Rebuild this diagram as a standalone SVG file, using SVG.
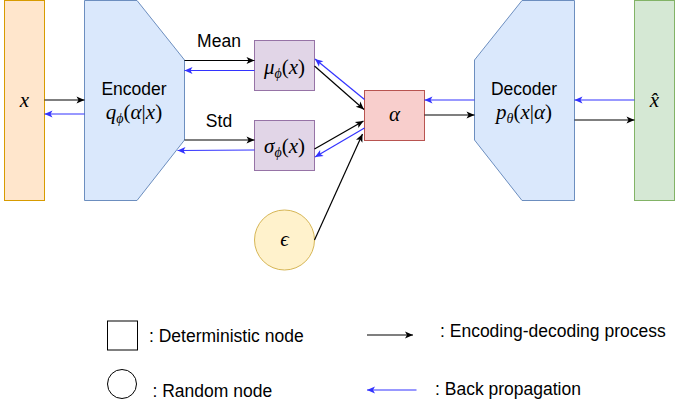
<svg xmlns="http://www.w3.org/2000/svg" width="685" height="411" viewBox="0 0 685 411">
<defs>
<style>
.lbl{font-family:"Liberation Sans",Arial,sans-serif;font-size:17.5px;fill:#000}
.m{font-family:"Liberation Serif","Times New Roman",serif;font-size:21px;fill:#000}
.mi{font-style:italic}
.fw{stroke:#000;stroke-width:1.2;fill:none;marker-end:url(#ab)}
.bw{stroke:#3333ff;stroke-width:1.2;fill:none;marker-end:url(#au)}
</style>
<marker id="ab" markerUnits="userSpaceOnUse" markerWidth="10" markerHeight="8" viewBox="0 0 10 8" refX="9" refY="4" orient="auto">
<path d="M1,0.5 L9,4 L1,7.5 L3,4 Z" fill="#000"/>
</marker>
<marker id="au" markerUnits="userSpaceOnUse" markerWidth="10" markerHeight="8" viewBox="0 0 10 8" refX="9" refY="4" orient="auto">
<path d="M1,0.5 L9,4 L1,7.5 L3,4 Z" fill="#3333ff"/>
</marker>
</defs>
<rect width="685" height="411" fill="#fff"/>

<g id="node-x">
<rect x="4.5" y="0.5" width="40" height="200" fill="#ffe6cc" stroke="#d79b00"/>
<text class="m mi" x="24.5" y="106.5" text-anchor="middle">x</text>
</g>

<g id="node-encoder">
<polygon points="84.5,0.5 137,0.5 184.5,60 184.5,140 137,200.5 84.5,200.5" fill="#dae8fc" stroke="#6c8ebf"/>
<text class="lbl" x="134" y="94.5" text-anchor="middle">Encoder</text>
<text class="m" x="134" y="119" text-anchor="middle"><tspan class="mi">q</tspan><tspan class="mi" font-size="14" dy="4">ϕ</tspan><tspan dy="-4">(</tspan><tspan class="mi">α</tspan>|<tspan class="mi">x</tspan>)</text>
</g>

<g id="node-mu">
<rect x="254.5" y="40.5" width="60" height="50" fill="#e1d5e7" stroke="#9673a6"/>
<text class="m" x="284.5" y="74" text-anchor="middle"><tspan class="mi">μ</tspan><tspan class="mi" font-size="14" dy="4">ϕ</tspan><tspan dy="-4">(</tspan><tspan class="mi">x</tspan>)</text>
</g>

<g id="node-sigma">
<rect x="254.5" y="120.5" width="60" height="50" fill="#e1d5e7" stroke="#9673a6"/>
<text class="m" x="284.5" y="152.5" text-anchor="middle"><tspan class="mi">σ</tspan><tspan class="mi" font-size="14" dy="4">ϕ</tspan><tspan dy="-4">(</tspan><tspan class="mi">x</tspan>)</text>
</g>

<g id="node-alpha">
<rect x="364.5" y="90.5" width="60" height="50" fill="#f8cecc" stroke="#b85450"/>
<text class="m mi" x="394.5" y="121" text-anchor="middle">α</text>
</g>

<g id="node-epsilon">
<circle cx="284.5" cy="240" r="30" fill="#fff2cc" stroke="#d6b656"/>
<text class="m mi" x="284.5" y="246" text-anchor="middle">ϵ</text>
</g>

<g id="node-decoder">
<polygon points="522,0.5 574.5,0.5 574.5,200.5 522,200.5 474.5,140 474.5,60" fill="#dae8fc" stroke="#6c8ebf"/>
<text class="lbl" x="524" y="94.5" text-anchor="middle">Decoder</text>
<text class="m" x="524" y="119" text-anchor="middle"><tspan class="mi">p</tspan><tspan class="mi" font-size="14" dy="4">θ</tspan><tspan dy="-4">(</tspan><tspan class="mi">x</tspan>|<tspan class="mi">α</tspan>)</text>
</g>

<g id="node-xhat">
<rect x="634.5" y="0.5" width="40" height="200" fill="#d5e8d4" stroke="#82b366"/>
<text class="m mi" x="654.5" y="107" text-anchor="middle">x̂</text>
</g>

<g id="labels">
<text class="lbl" x="219" y="46.5" text-anchor="middle">Mean</text>
<text class="lbl" x="219" y="127" text-anchor="middle">Std</text>
</g>

<g id="connectors">
<path class="fw" d="M44.5,100 L84.5,100"/>
<path class="bw" d="M84.5,114 L44.5,114"/>
<path class="fw" d="M184.5,60.5 L254.5,60.5"/>
<path class="bw" d="M254.5,70.5 L184.5,70.5"/>
<path class="fw" d="M184.5,140 L254.5,140"/>
<path class="bw" d="M254.5,150 L177.5,150.5"/>
<path class="fw" d="M314.5,66 L364,109.5"/>
<path class="bw" d="M364.5,99.5 L315,59"/>
<path class="fw" d="M314.5,149 L363.5,121"/>
<path class="bw" d="M364.5,128 L315,157"/>
<path class="fw" d="M314.5,240 L362.5,134"/>
<path class="bw" d="M474.5,100 L424.5,100"/>
<path class="fw" d="M424.5,115 L474.5,115"/>
<path class="bw" d="M634.5,100 L574.5,100"/>
<path class="fw" d="M574.5,120 L634.5,120"/>
</g>

<g id="legend">
<rect x="107.5" y="321" width="30" height="29" fill="#fff" stroke="#000"/>
<text class="lbl" x="149" y="342">: Deterministic node</text>
<circle cx="122" cy="384" r="14.5" fill="#fff" stroke="#000"/>
<text class="lbl" x="152.5" y="397">: Random node</text>
<path class="fw" d="M367,335 L413,335"/>
<text class="lbl" x="440" y="337">: Encoding-decoding process</text>
<path class="bw" d="M416.5,390 L367,390"/>
<text class="lbl" x="435" y="395">: Back propagation</text>
</g>
</svg>
